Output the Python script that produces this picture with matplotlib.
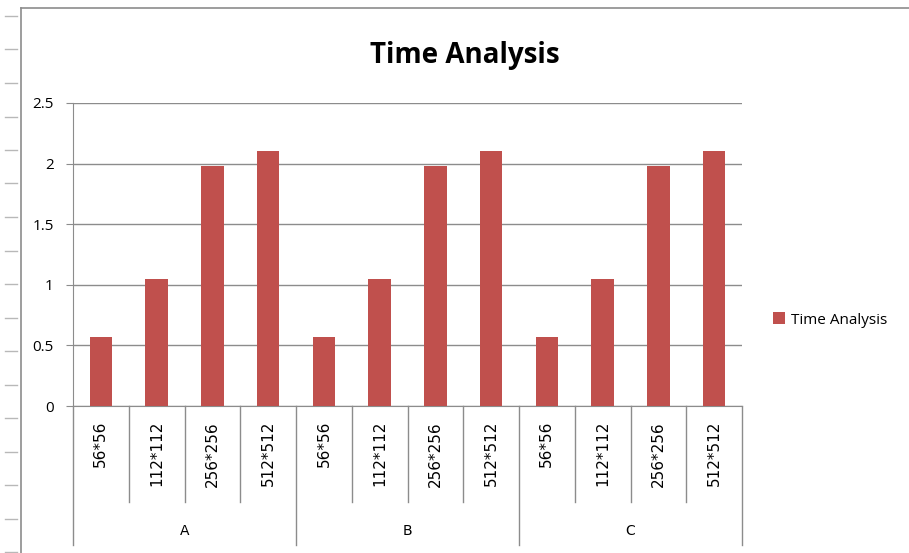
import numpy as np
import matplotlib.pyplot as plt
from matplotlib.transforms import blended_transform_factory

# datos del grafico
grupos = ["A", "B", "C"]
tamanos = ["56*56", "112*112", "256*256", "512*512"]
tiempos = [0.57, 1.05, 1.98, 2.10]   # mismo valor en cada grupo
serie = "Time Analysis"
color_barra = "#C0504D"
color_linea = "#8C8C8C"

fig = plt.figure(figsize=(9.09, 5.53), dpi=100)
W, H = 909, 553

# marco del grafico y marcas de la izquierda
fig.add_artist(plt.Line2D([21 / W, 21 / W], [0, 1 - 8 / H], color=color_linea, lw=1.2))
fig.add_artist(plt.Line2D([21 / W, 1], [1 - 8 / H, 1 - 8 / H], color=color_linea, lw=1.2))
for yy in np.arange(16, H, 33.5):
    fig.add_artist(plt.Line2D([5 / W, 17 / W], [1 - yy / H, 1 - yy / H], color="#B8B8B8", lw=1))

ax = fig.add_axes([73 / W, 1 - 406 / H, (742 - 73) / W, (406 - 103) / H])

n = len(tamanos)
x = []
valores = []
for g in range(len(grupos)):
    for i in range(n):
        x.append(g * n + i)
        valores.append(tiempos[i])
x = np.array(x)

ax.bar(x, valores, width=0.4, color=color_barra, label=serie, zorder=3)

ax.set_xlim(-0.5, len(grupos) * n - 0.5)
ax.set_ylim(0, 2.5)
ax.set_yticks(np.arange(0, 2.51, 0.5))
ax.set_yticklabels(["0", "0.5", "1", "1.5", "2", "2.5"], fontsize=11, family="Open Sans")
ax.yaxis.grid(True, color=color_linea, lw=1)
ax.set_axisbelow(True)
ax.tick_params(axis="y", length=5, color=color_linea, pad=9)
ax.set_xticks([])
for lado in ["top", "right"]:
    ax.spines[lado].set_visible(False)
ax.spines["bottom"].set_color(color_linea)
ax.spines["left"].set_color(color_linea)

# tabla de categorias debajo del eje
trans = blended_transform_factory(ax.transData, ax.transAxes)
alto_px = 406 - 103
bajo_int = -(502 - 406) / alto_px
bajo_grp = -(545 - 406) / alto_px
for k in range(len(grupos) * n + 1):
    xb = k - 0.5
    fondo = bajo_grp if k % n == 0 else bajo_int
    ax.plot([xb, xb], [0, fondo], color=color_linea, lw=1, transform=trans, clip_on=False)
for xi in x:
    ax.text(xi, -(421 - 406) / alto_px, tamanos[xi % n], rotation=90, ha="center", va="top",
            fontsize=11, transform=trans, family="DejaVu Sans")
for g, nombre in enumerate(grupos):
    ax.text(g * n + (n - 1) / 2, -(531 - 406) / alto_px, nombre, ha="center", va="center",
            fontsize=10, transform=trans, family="DejaVu Sans")

fig.text(465 / W, 1 - 55 / H, serie, ha="center", va="center", fontsize=20,
         fontweight="bold", family="Open Sans")

fig.legend(loc="center left", bbox_to_anchor=(759 / W, 1 - 320 / H), frameon=False,
           prop={"family": "Open Sans", "size": 11}, handlelength=0.8, handleheight=0.8,
           handletextpad=0.4)

fig.savefig("out.png", dpi=100)
